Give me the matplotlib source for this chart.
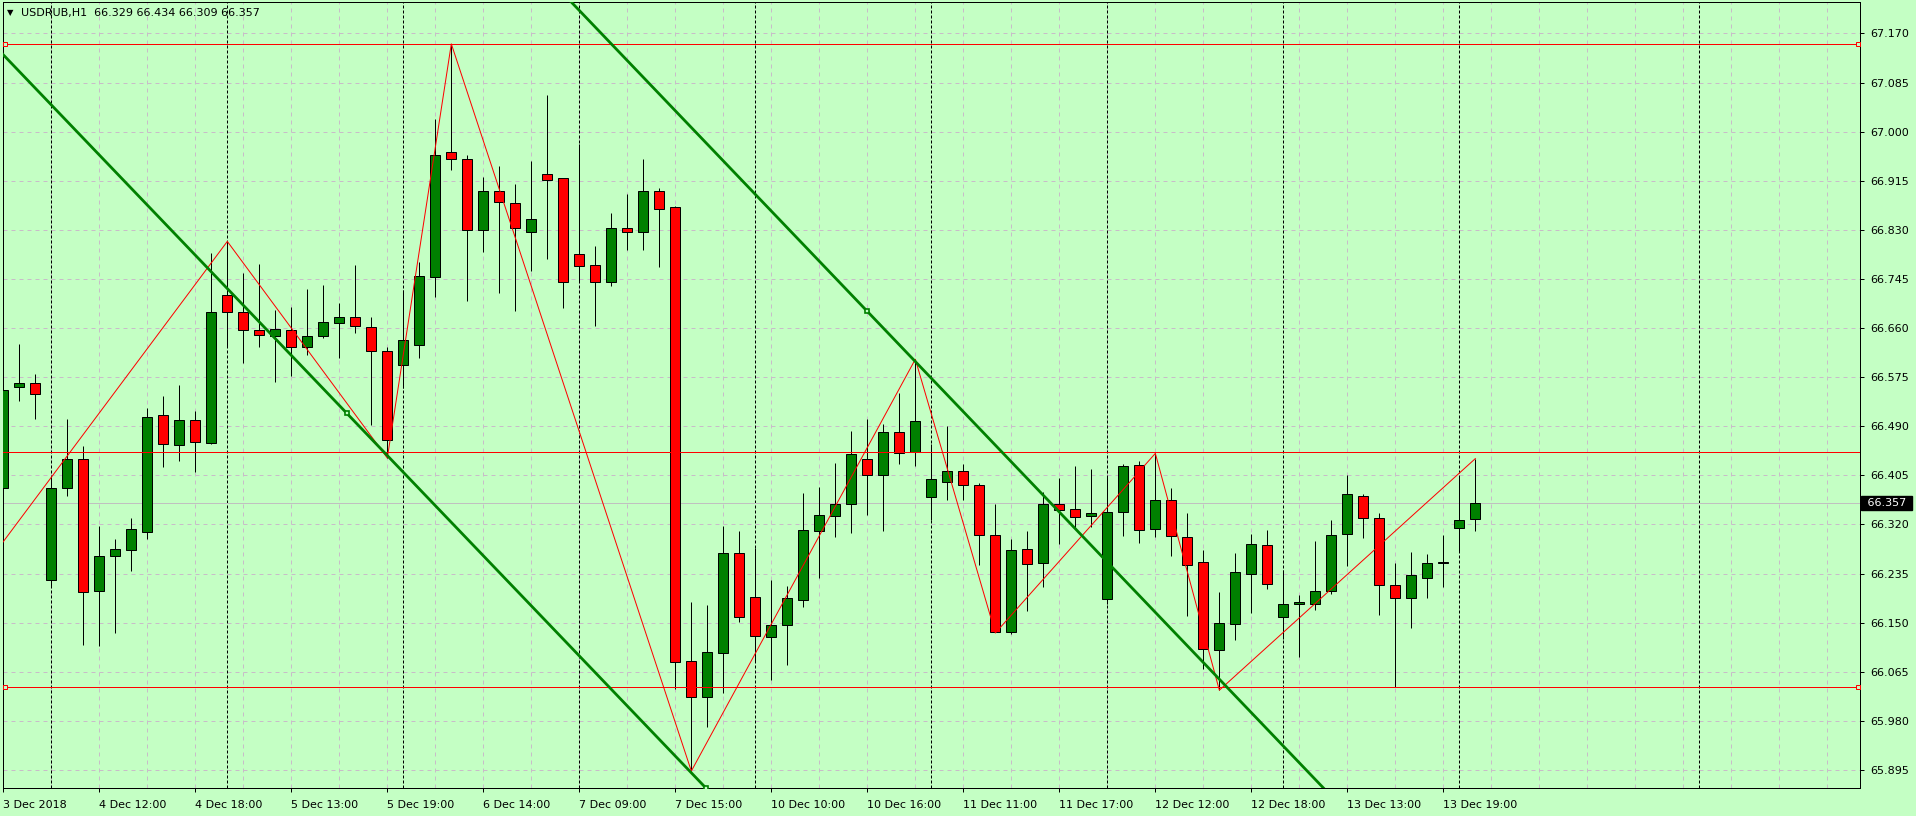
import matplotlib
matplotlib.use("Agg")
import matplotlib.pyplot as plt
import matplotlib.transforms as mtransforms
import numpy as np

# USDRUB H1 candles, bar 0 = 3 Dec 17:00 ... bar 92 = 14 Dec 10:00
opens = [66.383, 66.558, 66.565, 66.224, 66.383, 66.434, 66.205, 66.266, 66.276, 66.307,
         66.510, 66.458, 66.501, 66.461, 66.717, 66.688, 66.657, 66.647, 66.657, 66.628,
         66.647, 66.668, 66.680, 66.661, 66.620, 66.596, 66.630, 66.748, 66.964, 66.952,
         66.829, 66.897, 66.876, 66.826, 66.926, 66.919, 66.788, 66.770, 66.739, 66.833,
         66.827, 66.897, 66.869, 66.084, 66.022, 66.098, 66.270, 66.194, 66.125, 66.146,
         66.189, 66.309, 66.335, 66.355, 66.433, 66.405, 66.480, 66.445, 66.367, 66.393,
         66.412, 66.388, 66.302, 66.134, 66.277, 66.253, 66.355, 66.347, 66.334, 66.191,
         66.341, 66.423, 66.312, 66.362, 66.298, 66.255, 66.102, 66.147, 66.234, 66.284,
         66.159, 66.183, 66.183, 66.204, 66.303, 66.369, 66.331, 66.215, 66.192, 66.227,
         66.254, 66.313, 66.329]
highs = [66.569, 66.633, 66.580, 66.403, 66.502, 66.455, 66.317, 66.294, 66.332, 66.522,
         66.543, 66.562, 66.517, 66.790, 66.810, 66.756, 66.771, 66.691, 66.697, 66.728,
         66.735, 66.704, 66.769, 66.679, 66.627, 66.726, 66.775, 67.022, 67.152, 66.959,
         66.921, 66.940, 66.909, 66.949, 67.063, 66.920, 66.979, 66.802, 66.860, 66.892,
         66.952, 66.902, 66.871, 66.185, 66.181, 66.318, 66.308, 66.280, 66.223, 66.214,
         66.375, 66.385, 66.427, 66.482, 66.502, 66.494, 66.547, 66.606, 66.459, 66.490,
         66.425, 66.392, 66.356, 66.295, 66.309, 66.376, 66.401, 66.421, 66.416, 66.404,
         66.424, 66.430, 66.443, 66.383, 66.340, 66.276, 66.203, 66.270, 66.303, 66.310,
         66.241, 66.198, 66.291, 66.328, 66.405, 66.372, 66.340, 66.254, 66.273, 66.268,
         66.301, 66.404, 66.434]
lows = [66.349, 66.533, 66.502, 66.211, 66.370, 66.112, 66.109, 66.132, 66.239, 66.295,
        66.419, 66.430, 66.411, 66.460, 66.627, 66.600, 66.628, 66.567, 66.577, 66.613,
        66.643, 66.609, 66.652, 66.493, 66.435, 66.556, 66.608, 66.714, 66.933, 66.707,
        66.792, 66.720, 66.690, 66.758, 66.780, 66.694, 66.742, 66.664, 66.732, 66.796,
        66.796, 66.765, 66.035, 65.893, 65.970, 66.029, 66.151, 66.082, 66.050, 66.076,
        66.177, 66.228, 66.298, 66.305, 66.337, 66.308, 66.425, 66.422, 66.327, 66.363,
        66.362, 66.249, 66.134, 66.130, 66.171, 66.211, 66.286, 66.312, 66.315, 66.182,
        66.300, 66.288, 66.298, 66.265, 66.162, 66.070, 66.033, 66.120, 66.166, 66.208,
        66.122, 66.091, 66.172, 66.200, 66.248, 66.297, 66.164, 66.038, 66.140, 66.193,
        66.212, 66.272, 66.309]
closes = [66.553, 66.565, 66.546, 66.383, 66.434, 66.203, 66.266, 66.278, 66.312, 66.506,
          66.460, 66.501, 66.463, 66.688, 66.688, 66.657, 66.648, 66.658, 66.628, 66.647,
          66.670, 66.680, 66.663, 66.620, 66.466, 66.639, 66.750, 66.959, 66.952, 66.829,
          66.897, 66.878, 66.833, 66.848, 66.916, 66.739, 66.767, 66.739, 66.833, 66.827,
          66.897, 66.866, 66.081, 66.022, 66.099, 66.270, 66.160, 66.127, 66.146, 66.193,
          66.310, 66.336, 66.355, 66.442, 66.405, 66.480, 66.444, 66.499, 66.399, 66.412,
          66.388, 66.302, 66.134, 66.276, 66.251, 66.355, 66.345, 66.333, 66.340, 66.341,
          66.421, 66.310, 66.362, 66.300, 66.250, 66.104, 66.149, 66.237, 66.286, 66.217,
          66.182, 66.185, 66.204, 66.301, 66.372, 66.331, 66.215, 66.192, 66.232, 66.253,
          66.254, 66.327, 66.357]

# time axis labels every 6 bars
time_labels = ["3 Dec 2018", "4 Dec 12:00", "4 Dec 18:00", "5 Dec 13:00", "5 Dec 19:00",
               "6 Dec 14:00", "7 Dec 09:00", "7 Dec 15:00", "10 Dec 10:00", "10 Dec 16:00",
               "11 Dec 11:00", "11 Dec 17:00", "12 Dec 12:00", "12 Dec 18:00",
               "13 Dec 13:00", "13 Dec 19:00"]
day_separators = [3, 14, 25, 36, 47, 58, 69, 80, 91, 106]
price_levels = [67.170 - 0.085 * k for k in range(16)]

# chart objects
zigzag_bars = [-2, 14, 24, 28, 43, 57, 62, 72, 76, 92]
zigzag_prices = [66.216, 66.810, 66.435, 67.152, 65.893, 66.606, 66.132, 66.443, 66.033, 66.434]
hlines_marked = [67.152, 66.038]
hline_plain = 66.445
trend1 = [(21.45, 66.513), (43.9, 65.864)]
trend2 = [(53.96, 66.690), (82.6, 65.861)]
bid = closes[-1]

BG = "#c4ffc4"
GRID = "#c8bcc8"
UP = "#008000"
DOWN = "#ff0000"
PX = 0.72  # one pixel in points at dpi 100

fig = plt.figure(figsize=(19.16, 8.16), dpi=100, facecolor=BG)
ax = fig.add_axes([2.5 / 1916, 28 / 816, 1857.5 / 1916, 786 / 816])
ax.set_facecolor(BG)
ax.set_xlim(-0.05, 116.04)
ax.set_ylim(65.8637, 67.2245)

# grid
for lv in price_levels:
    ax.axhline(lv, color=GRID, lw=PX, ls=(0, (4, 4)), zorder=1)
for b in range(0, 117, 3):
    ax.axvline(b, color=GRID, lw=PX, ls=(0, (4, 4)), zorder=1)
for b in day_separators:
    ax.axvline(b, color="black", lw=PX, ls=(0, (3, 2)), zorder=1.2)

# bid line
ax.axhline(bid, color="#c0c0c0", lw=PX, zorder=1.5)

# candles
bars = np.arange(len(opens))
o = np.array(opens)
c = np.array(closes)
ax.vlines(bars, lows, highs, color="black", lw=PX, zorder=2)
body_bottom = np.minimum(o, c)
body_height = np.maximum(np.abs(c - o), 0.0004)
colors = [UP if cc >= oo else DOWN for oo, cc in zip(o, c)]
ax.bar(bars, body_height, bottom=body_bottom, width=0.62, color=colors,
       edgecolor="black", linewidth=PX, zorder=3)

# objects
ax.plot(zigzag_bars, zigzag_prices, color="red", lw=PX, zorder=4)
for lv in hlines_marked:
    ax.axhline(lv, color="red", lw=PX, zorder=4)
    ax.plot([0.12, 115.9], [lv, lv], ls="none", marker="s", ms=3.5, mfc=BG,
            mec="red", mew=PX, zorder=5)
ax.axhline(hline_plain, color="red", lw=PX, zorder=4)

for (x1, y1), (x2, y2), xr in [(trend1[0], trend1[1], (-5, trend1[1][0])),
                               (trend2[0], trend2[1], (30, 95))]:
    slope = (y2 - y1) / (x2 - x1)
    xs = np.array(xr)
    ax.plot(xs, y1 + slope * (xs - x1), color=UP, lw=2.0, zorder=4,
            solid_capstyle="butt")
ax.plot([trend1[0][0], trend1[1][0], trend2[0][0]],
        [trend1[0][1], trend1[1][1], trend2[0][1]], ls="none", marker="s",
        ms=3.5, mfc=BG, mec=UP, mew=1.2, zorder=5, clip_on=True)

# axes, ticks
for sp in ax.spines.values():
    sp.set_color("black")
    sp.set_linewidth(PX)
ax.yaxis.tick_right()
ax.set_yticks(price_levels)
ax.set_yticklabels([f"{lv:.3f}" for lv in price_levels])
ax.set_xticks(range(0, 91, 6))
ax.set_xticklabels(time_labels)
for lab in ax.get_xticklabels():
    lab.set_horizontalalignment("left")
ax.tick_params(axis="both", length=3, width=PX, color="black", labelsize=8,
               labelcolor="black")
ax.tick_params(axis="y", pad=4.5)
ax.tick_params(axis="x", pad=5.5)

# bid price label
trans = mtransforms.blended_transform_factory(ax.transAxes, ax.transData)
ax.text(1.002, bid, f" {bid:.3f} ", transform=trans, fontsize=8, color="white",
        va="center", ha="left", zorder=6,
        bbox=dict(boxstyle="square,pad=0.2", fc="black", ec="black"))

# header
fig.text(7 / 1916, 1 - 13 / 816, "\u25bc", fontsize=6, va="center", ha="left")
fig.text(21 / 1916, 1 - 13 / 816,
         f"USDRUB,H1  {opens[-1]:.3f} {highs[-1]:.3f} {lows[-1]:.3f} {closes[-1]:.3f}",
         fontsize=8, va="center", ha="left")

fig.savefig("out.png", dpi=100, facecolor=BG)
